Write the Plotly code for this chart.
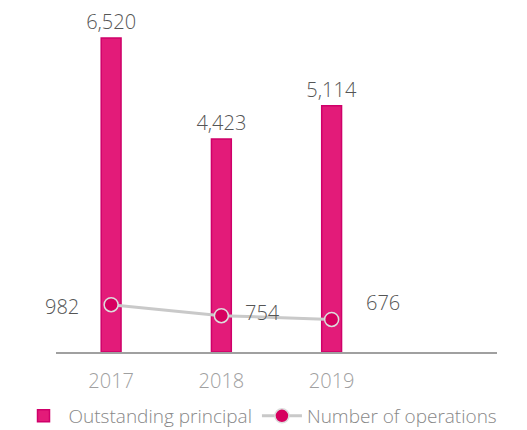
import plotly.graph_objects as go

# ─── Dados ────────────────────────────────────────────────────────────────
anos = ["2017", "2018", "2019"]
principal = [6520, 4423, 5114]
operacoes = [982, 754, 676]
categorias = ["2017", "2018", "2019", " "]

ROSA = "#E31B79"
ROSA_BORDA = "#CF006A"
CINZA_LINHA = "#C9C9C9"
FONTE = "Open Sans, Lato, sans-serif"

fig = go.Figure()

fig.add_trace(
    go.Bar(
        x=anos,
        y=principal,
        name="Outstanding principal",
        width=0.18,
        marker=dict(color=ROSA, line=dict(color=ROSA_BORDA, width=1.5)),
        text=[f"{v:,}" for v in principal],
        textposition="outside",
        constraintext="none",
        textfont=dict(size=20, color="#555555", family=FONTE, weight=300),
        cliponaxis=False,
    )
)

fig.add_trace(
    go.Scatter(
        x=anos,
        y=operacoes,
        name="Number of operations",
        mode="lines+markers",
        line=dict(color=CINZA_LINHA, width=3),
        marker=dict(color="#D6005F", size=14, line=dict(color="#DDDDDD", width=1.5)),
    )
)

# rótulos da linha, deslocados como no original (x por índice da categoria)
desloc = [(-49, -2), (41, 3), (51, 17)]
for i, (v, (dx, dy)) in enumerate(zip(operacoes, desloc)):
    fig.add_annotation(
        x=i, y=v, text=f"{v:,}", showarrow=False,
        xshift=dx, yshift=dy,
        font=dict(size=20, color="#555555", family=FONTE, weight=300),
    )

# a página tem 8px de margem no body: figura menor e margens ajustadas
fig.update_layout(
    width=519,
    height=422,
    paper_bgcolor="white",
    plot_bgcolor="white",
    margin=dict(l=48, r=30, t=2, b=78, autoexpand=False),
    font=dict(family=FONTE, color="#888888", size=19, weight=300),
    showlegend=True,
    legend=dict(
        orientation="h",
        x=-0.085, xanchor="left",
        y=-0.187, yanchor="middle",
        font=dict(size=19, color="#888888", weight=300),
        traceorder="normal",
        itemwidth=40,
    ),
    xaxis=dict(
        type="category",
        categoryorder="array",
        categoryarray=categorias,
        range=[-0.5, 3.5],
        showline=True,
        linecolor="#A0A0A0",
        linewidth=2,
        showgrid=False,
        ticks="outside",
        ticklen=10,
        tickcolor="rgba(0,0,0,0)",
        tickfont=dict(size=20, color="#A0A0A0", weight=300),
    ),
    yaxis=dict(
        range=[0, 7100],
        visible=False,
        showgrid=False,
        zeroline=False,
    ),
)

fig.write_html("out.html")
